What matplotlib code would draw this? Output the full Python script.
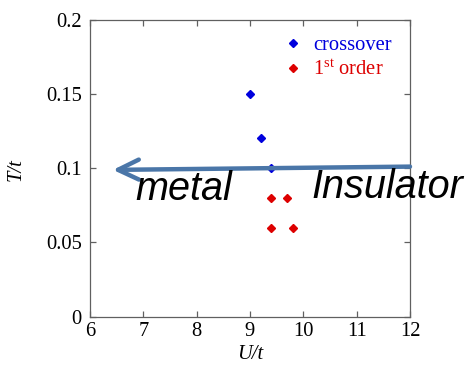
import matplotlib
matplotlib.use("Agg")
import matplotlib.pyplot as plt

plt.rcParams["font.family"] = ["Liberation Serif", "DejaVu Serif"]
plt.rcParams["mathtext.fontset"] = "custom"
plt.rcParams["mathtext.rm"] = "Liberation Serif"
plt.rcParams["mathtext.it"] = "Liberation Serif:italic"

# phase boundary points (U/t, T/t)
crossover_u = [9.0, 9.2, 9.4]
crossover_t = [0.15, 0.12, 0.10]
first_order_u = [9.4, 9.7, 9.4, 9.8]
first_order_t = [0.08, 0.08, 0.06, 0.06]

x_ticks = [6, 7, 8, 9, 10, 11, 12]
y_ticks = [0, 0.05, 0.1, 0.15, 0.2]
y_tick_labels = ["0", "0.05", "0.1", "0.15", "0.2"]

# arrow from insulating side back towards metal
arrow_tail = (12.0, 0.101)
arrow_head = (6.43, 0.0988)

fs = 14.8

fig = plt.figure(figsize=(4.65, 3.66), dpi=100)
ax = fig.add_axes([0.1935, 0.1347, 0.6882, 0.812])

ax.plot(crossover_u, crossover_t, "D", color="#0000dd", ms=4.3, ls="none", label="crossover")
ax.plot(first_order_u, first_order_t, "D", color="#dd0000", ms=4.3, ls="none",
        label=r"1$^{\rm st}$ order")

ax.set_xlim(6, 12)
ax.set_ylim(0, 0.2)
ax.set_xticks(x_ticks)
ax.set_yticks(y_ticks)
ax.set_yticklabels(y_tick_labels)
ax.tick_params(direction="in", top=True, right=True, length=4, width=0.9,
               color="#606060", labelsize=fs)
ax.tick_params(axis="y", pad=6)
ax.tick_params(axis="x", pad=4)
for sp in ax.spines.values():
    sp.set_color("#606060")
    sp.set_linewidth(0.9)

xl = ax.set_xlabel("U/t", fontsize=fs, style="italic")
yl = ax.set_ylabel("T/t", fontsize=fs, style="italic")
xl.set_verticalalignment("center")
yl.set_verticalalignment("center")
ax.xaxis.set_label_coords(0.5, -0.128)
ax.yaxis.set_label_coords(-0.232, 0.494)

ax.legend(loc="upper left", bbox_to_anchor=(0.602, 0.945), frameon=False,
          numpoints=1, handlelength=1.0, handletextpad=0.5,
          borderpad=0, borderaxespad=0, labelspacing=0.25,
          prop={"size": fs}, labelcolor="markerfacecolor")

ax.annotate("", xy=arrow_head, xytext=arrow_tail,
            arrowprops=dict(arrowstyle="->,head_length=0.75,head_width=0.36",
                            color="#4a76a8", lw=3.2, mutation_scale=20,
                            shrinkA=0, shrinkB=0))

ax.text(6.85, 0.0786, "metal", fontsize=28.5, style="italic",
        fontfamily="Liberation Sans", va="baseline", ha="left")
ax.text(10.16, 0.080, "Insulator", fontsize=28.5, style="italic",
        fontfamily="Liberation Sans", va="baseline", ha="left", clip_on=False)

fig.savefig("out.png", dpi=100)
